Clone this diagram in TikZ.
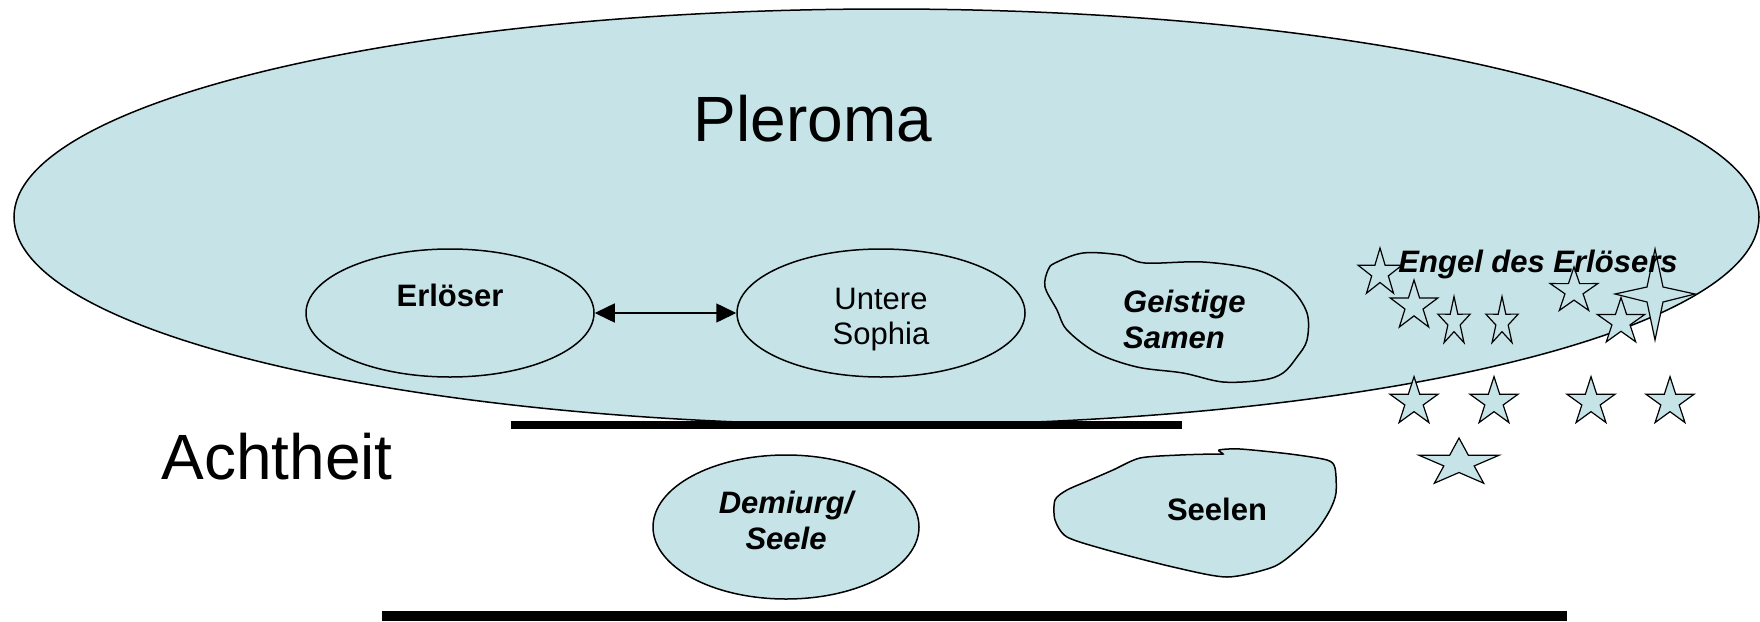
\documentclass[tikz,border=0pt]{standalone}
\usepackage{fontspec}
\setmainfont{Liberation Sans}
\usetikzlibrary{shapes.geometric,arrows.meta}

\definecolor{pleromablau}{RGB}{198,228,232}

\tikzset{
  rand/.style={draw=black, line width=1.5pt, fill=pleromablau},
  gross/.style={font=\fontsize{64}{70}\selectfont},
  normal/.style={font=\fontsize{31}{35}\selectfont},
  fett/.style={font=\fontsize{31}{35}\selectfont\bfseries},
  kursiv/.style={font=\fontsize{31}{36}\selectfont\bfseries\itshape},
  oval/.style={rand, ellipse, inner sep=0pt, align=center},
  balken/.style={line width=8pt},
  stern/.pic={
    \filldraw[rand, line width=1.2pt] (270:1) -- (306:0.38) -- (342:1) -- (18:0.38)
      -- (54:1) -- (90:0.38) -- (126:1) -- (162:0.38) -- (198:1) -- (234:0.38) -- cycle;
  }
}

\begin{document}
\begin{tikzpicture}[x=1pt, y=-1pt]
  \useasboundingbox (0,0) rectangle (1760,621);

  % Pleroma
  \node[oval, minimum width=1745pt, minimum height=416pt] (pleroma) at (886.5,217) {};
  \node[gross, anchor=base] (pleromatext) at (813,141) {Pleroma};

  % Erloeser und Sophia
  \node[oval, fett, minimum width=288pt, minimum height=128pt, text depth=36pt]
    (erloeser) at (450,313) {Erlöser};
  \node[oval, normal, minimum width=288pt, minimum height=128pt, text height=68.5pt]
    (sophia) at (881,313) {Untere\\Sophia};
  \draw[line width=1.5pt, >={Triangle[length=20pt, width=19pt]}, <->] (erloeser) -- (sophia);

  % Geistige Samen
  \draw[rand] plot[smooth cycle, tension=0.55] coordinates {
    (1055,263) (1083,253) (1120,255) (1145,263) (1203,262) (1257,270) (1290,288)
    (1307,313) (1307,340) (1297,357) (1283,373) (1263,380) (1223,382) (1183,373)
    (1137,367) (1097,353) (1067,330) (1057,310) (1045,287) (1048,270)};
  \node[kursiv, align=left, anchor=west, inner sep=0pt] (samen) at (1123,319) {Geistige\\Samen};

  % Sterne
  \pic[xscale=23, yscale=25] at (1380,273) {stern};
  \pic[xscale=25, yscale=26] at (1414,306) {stern};
  \pic[xscale=17, yscale=25.5] at (1454,322) {stern};
  \pic[xscale=17, yscale=25.5] at (1502,322) {stern};
  \pic[xscale=25, yscale=24] at (1574,291) {stern};
  \pic[xscale=25, yscale=24.5] at (1621,322) {stern};
  \filldraw[rand, line width=1.2pt] (1655,249) -- (1663,287) -- (1695,294) -- (1663,302)
    -- (1655,340) -- (1647,302) -- (1615,294) -- (1647,287) -- cycle;
  \pic[scale=25.4] at (1414,402) {stern};
  \pic[scale=25.4] at (1494,402) {stern};
  \pic[scale=25.4] at (1591,402) {stern};
  \pic[scale=25.4] at (1670,402) {stern};
  \pic[xscale=42, yscale=25] at (1459,463) {stern};
  \node[kursiv, anchor=base] (engel) at (1538,272) {Engel des Erlösers};

  % Achtheit
  \draw[balken] (511,425) -- (1182,425);
  \node[gross, anchor=base] (achtheit) at (277,479) {Achtheit};

  \node[oval, kursiv, minimum width=266pt, minimum height=144pt, text depth=12.6pt]
    (demiurg) at (786,527) {Demiurg/\\Seele};

  \draw[rand] plot[smooth cycle, tension=0.45] coordinates {
    (1113,470) (1140,458) (1180,455) (1214,454) (1223,454) (1219,450) (1240,449)
    (1290,454) (1327,460) (1335,468) (1336,493) (1330,510) (1317,530) (1297,550)
    (1273,567) (1227,577) (1173,567) (1107,550) (1067,537) (1055,520) (1055,500)
    (1067,490) (1090,480)};
  \node[fett, anchor=base] (seelen) at (1217,520) {Seelen};

  \draw[line width=10pt] (382,616) -- (1567,616);
\end{tikzpicture}
\end{document}
